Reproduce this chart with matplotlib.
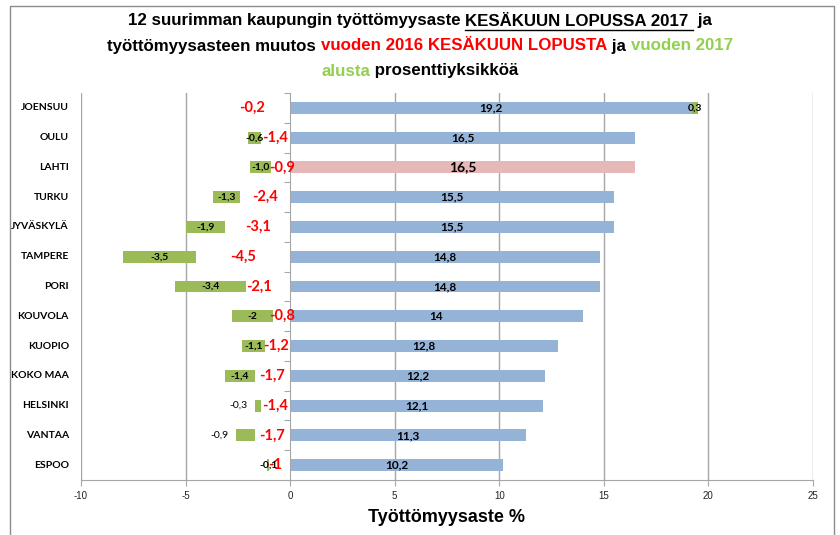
import matplotlib
matplotlib.use("Agg")
import matplotlib.pyplot as plt
from matplotlib.patches import Rectangle
from matplotlib.lines import Line2D
import matplotlib.transforms as mtransforms

# ---- data ----
cities = ['JOENSUU', 'OULU', 'LAHTI', 'TURKU', 'JYVÄSKYLÄ', 'TAMPERE', 'PORI',
          'KOUVOLA', 'KUOPIO', 'KOKO MAA', 'HELSINKI', 'VANTAA', 'ESPOO']
rate = [19.2, 16.5, 16.5, 15.5, 15.5, 14.8, 14.8, 14.0, 12.8, 12.2, 12.1, 11.3, 10.2]
change_2016 = [-0.2, -1.4, -0.9, -2.4, -3.1, -4.5, -2.1, -0.8, -1.2, -1.7, -1.4, -1.7, -1.0]
change_2017 = [0.3, -0.6, -1.0, -1.3, -1.9, -3.5, -3.4, -2.0, -1.1, -1.4, -0.3, -0.9, -0.1]
xticks = [-10, -5, 0, 5, 10, 15, 20, 25]

highlight = 'LAHTI'
green_fixed_decimals = {'LAHTI'}          # label shown as "-1,0"
green_outside = {'HELSINKI', 'VANTAA'}    # labels placed left of the bar
red_label_nudge = {'JOENSUU': -1.7, 'PORI': -0.45, 'KUOPIO': -0.08, 'ESPOO': -0.2,
                   'LAHTI': 0.05}

BLUE = '#95B3D7'
PINK = '#E6B9B8'
GREEN = '#9BBB59'
RED = '#FF0000'
TGREEN = '#92D050'
GRID = '#A6A6A6'

LAB = ['Lato', 'DejaVu Sans']
NARROW = ['Liberation Sans Narrow', 'Liberation Sans', 'DejaVu Sans']


def fmt(v, keep=False):
    if not keep and abs(v - round(v)) < 1e-9:
        s = str(int(round(v)))
    else:
        s = f"{v:.1f}"
    return s.replace('.', ',')


fig = plt.figure(figsize=(8.4, 5.35), dpi=100)
W, H = 840, 535
ax = fig.add_axes([81 / W, 1 - 480 / H, 732 / W, 387 / H])

y = list(range(len(cities)))
bh = 0.4

# invisible base (change from 2016) -> green stacked after it
ax.barh(y, change_2016, height=bh, color='none')
# blue/pink rates
colors = [PINK if c == highlight else BLUE for c in cities]
ax.barh(y, rate, height=bh, color=colors, edgecolor='none', zorder=3)
# green stacked: negative after the invisible base, positive after the rate
lefts = [(r if g > 0 else c16) for r, g, c16 in zip(rate, change_2017, change_2016)]
ax.barh(y, change_2017, left=lefts, height=bh, color=GREEN, edgecolor='none', zorder=3)

ax.set_xlim(-10, 25)
ax.set_ylim(len(cities) - 0.5, -0.5)

# gridlines
for xv in xticks:
    if xv != 0:
        ax.axvline(xv, color=GRID, lw=1.0, zorder=1)

for s in ['top', 'right']:
    ax.spines[s].set_visible(False)
ax.spines['left'].set_position(('data', 0))
ax.spines['left'].set_color(GRID)
ax.spines['bottom'].set_color(GRID)
ax.spines['left'].set_zorder(4)

ax.set_xticks(xticks)
ax.set_xticklabels([str(t) for t in xticks], fontsize=7, family=NARROW, color='#222222')
ax.tick_params(axis='x', length=4, color=GRID, pad=4)
ax.set_yticks([i + 0.5 for i in range(-1, len(cities))])
ax.set_yticklabels([])
ax.tick_params(axis='y', length=4, color=GRID, direction='out')

# category labels at the left of the plot area
trans = mtransforms.blended_transform_factory(ax.transAxes, ax.transData)
off = mtransforms.ScaledTranslation(-12 / 100, 0, fig.dpi_scale_trans)
for yi, c in zip(y, cities):
    ax.text(0, yi, c, transform=trans + off, ha='right', va='center',
            fontsize=7.5, fontweight='bold', family=LAB, color='black')

# blue value labels
for yi, c, r in zip(y, cities, rate):
    ax.text(r / 2, yi, fmt(r), ha='center', va='center', zorder=5,
            fontsize=10 if c == highlight else 8.5, fontweight='bold', family=LAB)

# green value labels
for yi, c, g, l in zip(y, cities, change_2017, lefts):
    txt = fmt(g, keep=c in green_fixed_decimals)
    if c in green_outside:
        ax.text(l + g - 0.35, yi, txt, ha='right', va='center', zorder=5,
                fontsize=7.5, family=LAB)
    else:
        ax.text(l + g / 2, yi, txt, ha='center', va='center', zorder=5,
                fontsize=7.5, fontweight='bold', family=LAB)

# red labels (change from June 2016)
for yi, c, v in zip(y, cities, change_2016):
    ax.text(v / 2 + red_label_nudge.get(c, 0), yi, fmt(v), ha='center', va='center',
            zorder=6, fontsize=10.5, fontweight='bold', family=LAB, color=RED)

ax.set_xlabel('Työttömyysaste %', fontsize=13, fontweight='bold', family=NARROW,
              labelpad=6)

# figure border
fig.patches.append(Rectangle((10 / W, -0.05), 824 / W, 1.05 - 6 / H,
                             transform=fig.transFigure, fill=False,
                             edgecolor='#8C8C8C', lw=1.0))

# ---- multi-coloured title ----
title_lines = [
    [('12 suurimman kaupungin työttömyysaste ', 'black', False),
     ('KESÄKUUN LOPUSSA 2017 ', 'black', True),
     (' ja', 'black', False)],
    [('työttömyysasteen muutos ', 'black', False),
     ('vuoden 2016 KESÄKUUN LOPUSTA', RED, False),
     (' ja ', 'black', False),
     ('vuoden 2017', TGREEN, False)],
    [('alusta', TGREEN, False),
     (' prosenttiyksikköä', 'black', False)],
]
line_y = [21, 46, 71]
renderer = fig.canvas.get_renderer()
tsize = 12.2
for segs, ly in zip(title_lines, line_y):
    texts = []
    widths = []
    for s, col, ul in segs:
        t = fig.text(0, 1 - ly / H, s, fontsize=tsize, fontweight='bold', family=NARROW,
                     color=col, va='center', ha='left')
        bb = t.get_window_extent(renderer)
        texts.append((t, ul))
        widths.append(bb.width)
    total = sum(widths)
    x0 = 420 - total / 2
    for (t, ul), w in zip(texts, widths):
        t.set_x(x0 / W)
        if ul:
            yl = 1 - (ly + 9) / H
            fig.lines.append(Line2D([x0 / W, (x0 + w) / W], [yl, yl],
                                    transform=fig.transFigure, color='black', lw=1.0))
        x0 += w

fig.savefig('out.png', dpi=100)
